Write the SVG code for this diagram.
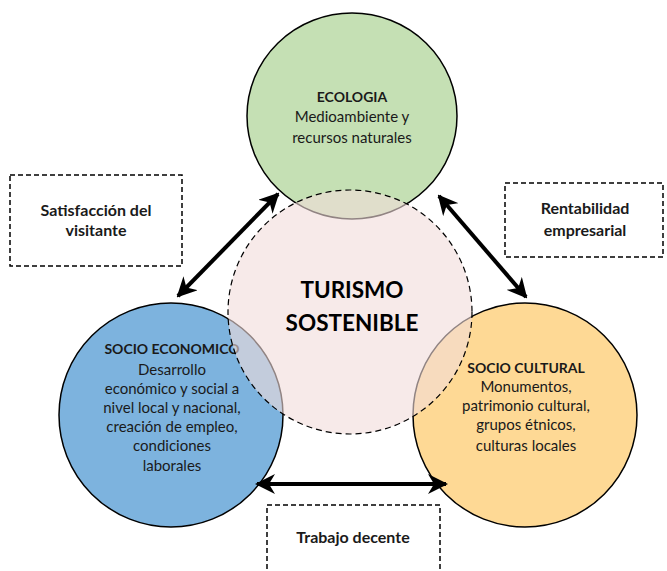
<svg xmlns="http://www.w3.org/2000/svg" width="667" height="571" viewBox="0 0 667 571">
<style>
text{font-family:Lato,"Open Sans","Liberation Sans",sans-serif;fill:#1a1a1a;text-anchor:middle}
.t{font-size:15px}
.h{font-size:14px;font-weight:bold}
.lb{font-size:16px;font-weight:bold}
.big{font-size:22.5px;font-weight:bold;fill:#000}
.outer{stroke:#000;stroke-width:1.5}
.box{fill:#fff;stroke:#000;stroke-width:1.5;stroke-dasharray:5,3}
.arr{stroke:#000;stroke-width:4;fill:none;marker-start:url(#ah);marker-end:url(#ah)}
</style>
<defs>
<marker id="ah" viewBox="0 0 10 10" refX="9" refY="5" markerWidth="5" markerHeight="5" orient="auto-start-reverse" markerUnits="strokeWidth">
<path d="M0,0 L10,5 L0,10 L3,5 Z" fill="#000"/>
</marker>
</defs>
<rect width="667" height="571" fill="#fff"/>
<g id="box-satisfaccion">
<rect class="box" x="10" y="175" width="172" height="91"/>
<text class="lb" x="96" y="216">Satisfacción del</text>
<text class="lb" x="96" y="236">visitante</text>
</g>
<g id="box-rentabilidad">
<rect class="box" x="505" y="183" width="158" height="74"/>
<text class="lb" x="585" y="214">Rentabilidad</text>
<text class="lb" x="585" y="236">empresarial</text>
</g>
<g id="box-trabajo">
<rect class="box" x="267" y="505" width="173" height="75"/>
<text class="lb" x="353" y="543">Trabajo decente</text>
</g>
<g id="ecologia">
<ellipse class="outer" cx="352" cy="116" rx="105" ry="103" fill="#c5e0b4"/>
<text class="h" x="352" y="102">ECOLOGIA</text>
<text class="t" x="352" y="122">Medioambiente y</text>
<text class="t" x="352" y="143">recursos naturales</text>
</g>
<g id="socio-economico">
<circle class="outer" cx="171" cy="415" r="112" fill="#7db3de"/>
<text class="h" x="172" y="354">SOCIO ECONOMICO</text>
<text class="t" x="172" y="375">Desarrollo</text>
<text class="t" x="172" y="394">económico y social a</text>
<text class="t" x="172" y="413">nivel local y nacional,</text>
<text class="t" x="172" y="432">creación de empleo,</text>
<text class="t" x="172" y="451">condiciones</text>
<text class="t" x="172" y="471">laborales</text>
</g>
<g id="socio-cultural">
<circle class="outer" cx="525" cy="415" r="112" fill="#fed995"/>
<text class="h" x="526" y="373">SOCIO CULTURAL</text>
<text class="t" x="526" y="392">Monumentos,</text>
<text class="t" x="526" y="411">patrimonio cultural,</text>
<text class="t" x="526" y="430">grupos étnicos,</text>
<text class="t" x="526" y="451">culturas locales</text>
</g>
<g id="turismo">
<circle cx="350" cy="312" r="122" fill="#f2dcdb" fill-opacity="0.6" stroke="#000" stroke-width="1.2" stroke-dasharray="6,4"/>
<text class="big" x="352" y="298">TURISMO</text>
<text class="big" x="352" y="331">SOSTENIBLE</text>
</g>
<g id="connectors">
<line class="arr" x1="178" y1="296" x2="278" y2="194"/>
<line class="arr" x1="439" y1="196" x2="526" y2="297"/>
<line class="arr" x1="257" y1="484" x2="446" y2="484"/>
</g>
</svg>
